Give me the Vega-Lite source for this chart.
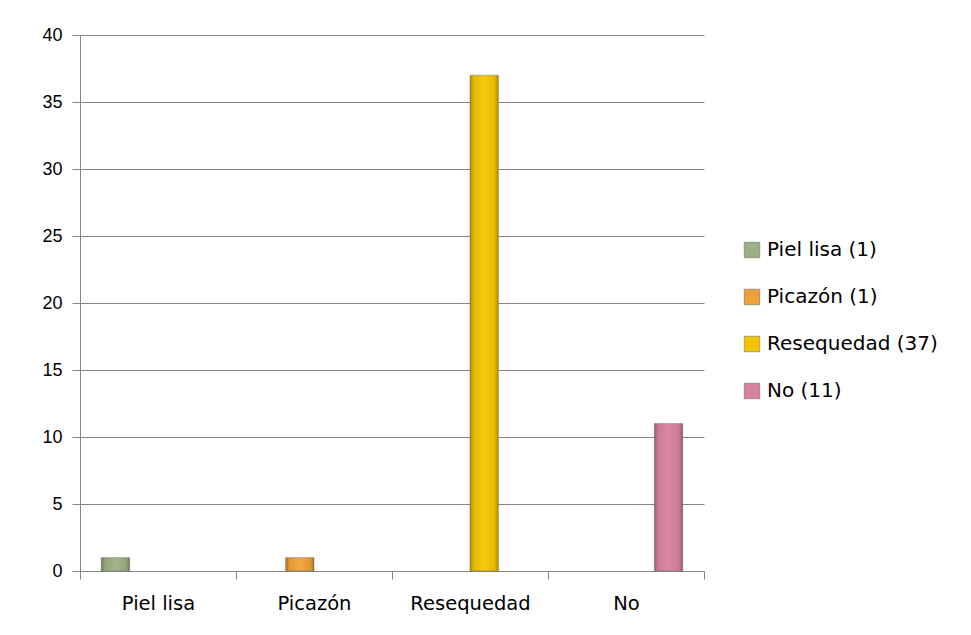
{
  "$schema": "https://vega.github.io/schema/vega-lite/v6.json",
  "autosize": "none",
  "width": 624,
  "height": 536,
  "padding": {"left": 80, "top": 35, "right": 267, "bottom": 64},
  "background": "white",
  "config": {
    "view": {"stroke": null},
    "font": "Liberation Sans"
  },
  "data": {
    "values": [
      {"categoria": "Piel lisa", "serie": "Piel lisa (1)", "valor": 1},
      {"categoria": "Picazón", "serie": "Picazón (1)", "valor": 1},
      {"categoria": "Resequedad", "serie": "Resequedad (37)", "valor": 37},
      {"categoria": "No", "serie": "No (11)", "valor": 11}
    ]
  },
  "encoding": {
    "x": {
      "field": "categoria",
      "type": "nominal",
      "sort": ["Piel lisa", "Picazón", "Resequedad", "No"],
      "scale": {"paddingInner": 0, "paddingOuter": 0},
      "axis": {
        "title": null,
        "labelAngle": 0,
        "tickBand": "extent",
        "tickSize": 8,
        "tickColor": "#868686",
        "domainColor": "#868686",
        "labelFont": "DejaVu Sans",
        "labelFontSize": 19.5,
        "labelColor": "#000000",
        "labelPadding": 15,
        "grid": false
      }
    },
    "xOffset": {
      "field": "serie",
      "type": "nominal",
      "scale": {
        "domain": ["Piel lisa (1)", "Picazón (1)", "Resequedad (37)", "No (11)"],
        "paddingInner": 0,
        "paddingOuter": 0.75
      }
    },
    "y": {
      "field": "valor",
      "type": "quantitative",
      "scale": {"domain": [0, 40], "nice": false},
      "axis": {
        "title": null,
        "values": [0, 5, 10, 15, 20, 25, 30, 35, 40],
        "tickSize": 8,
        "tickColor": "#868686",
        "domainColor": "#868686",
        "gridColor": "#868686",
        "gridOpacity": 1,
        "labelFontSize": 18,
        "labelColor": "#000000",
        "labelPadding": 10
      }
    }
  },
  "layer": [
    {
      "mark": {"type": "bar", "stroke": "#6f6f6f", "strokeWidth": 0.6, "strokeOpacity": 0.7},
      "encoding": {
        "color": {
          "field": "serie",
          "type": "nominal",
          "scale": {
            "domain": ["Piel lisa (1)", "Picazón (1)", "Resequedad (37)", "No (11)"],
            "range": ["#9cb083", "#eea236", "#f3c500", "#d8819f"]
          },
          "legend": {
            "title": null,
            "orient": "none",
            "legendX": 662,
            "legendY": 205,
            "symbolType": "square",
            "symbolSize": 240,
            "symbolStrokeColor": "#6f6f6f",
            "symbolStrokeWidth": 0.6,
            "labelFont": "DejaVu Sans",
            "labelFontSize": 20,
            "labelColor": "#000000",
            "labelOffset": 5,
            "rowPadding": 27,
            "labelLimit": 300
          }
        }
      }
    },
    {
      "mark": {
        "type": "bar",
        "fill": {
          "gradient": "linear",
          "x1": 0, "x2": 1, "y1": 0, "y2": 0,
          "stops": [
            {"offset": 0, "color": "rgba(0,0,0,0.28)"},
            {"offset": 0.14, "color": "rgba(0,0,0,0.06)"},
            {"offset": 0.5, "color": "rgba(255,255,255,0.06)"},
            {"offset": 0.86, "color": "rgba(0,0,0,0.06)"},
            {"offset": 1, "color": "rgba(0,0,0,0.28)"}
          ]
        },
        "stroke": null
      },
      "encoding": {}
    }
  ]
}
